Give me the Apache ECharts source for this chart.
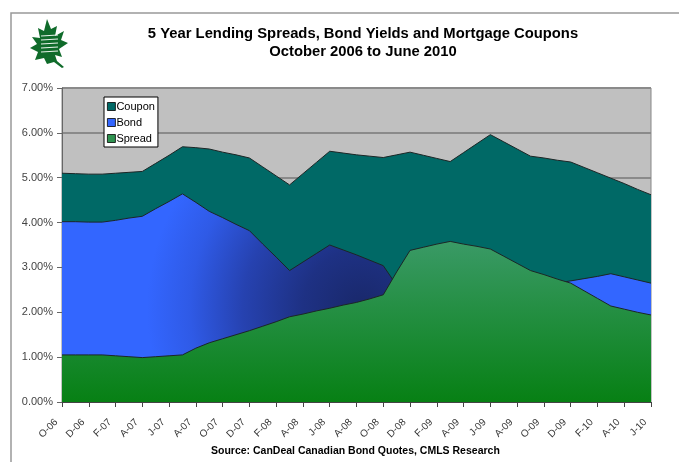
<!DOCTYPE html>
<html>
<head>
<meta charset="utf-8">
<script src="https://cdn.jsdelivr.net/npm/echarts@6/dist/echarts.min.js"></script>
<style>
  html, body { margin: 0; padding: 0; background: #fff; }
  #chart { width: 679px; height: 462px; }
</style>
</head>
<body>
<div id="chart"></div>
<script>
/* ---------------------------------- Data ---------------------------------- */
// monthly, October 2006 to June 2010 (every other month labelled)
const months = [
  'O-06', 'N-06', 'D-06',
  'J-07', 'F-07', 'M-07', 'A-07', 'M-07', 'J-07', 'J-07', 'A-07', 'S-07', 'O-07', 'N-07', 'D-07',
  'J-08', 'F-08', 'M-08', 'A-08', 'M-08', 'J-08', 'J-08', 'A-08', 'S-08', 'O-08', 'N-08', 'D-08',
  'J-09', 'F-09', 'M-09', 'A-09', 'M-09', 'J-09', 'J-09', 'A-09', 'S-09', 'O-09', 'N-09', 'D-09',
  'J-10', 'F-10', 'M-10', 'A-10', 'M-10', 'J-10'
];

const coupon = [
  5.10, 5.09, 5.08, 5.08, 5.10, 5.12, 5.14, 5.32, 5.50, 5.69,
  5.67, 5.64, 5.57, 5.51, 5.44, 5.24, 5.04, 4.84, 5.09, 5.34,
  5.59, 5.55, 5.51, 5.48, 5.45, 5.51, 5.57, 5.50, 5.43, 5.36,
  5.56, 5.76, 5.96, 5.80, 5.64, 5.48, 5.44, 5.39, 5.35, 5.23,
  5.11, 4.99, 4.87, 4.74, 4.62
];

const bond = [
  4.02, 4.02, 4.01, 4.01, 4.05, 4.10, 4.14, 4.31, 4.47, 4.64,
  4.45, 4.25, 4.11, 3.96, 3.82, 3.52, 3.23, 2.93, 3.12, 3.31,
  3.50, 3.39, 3.28, 3.16, 3.04, 2.60, 2.19, 2.05, 1.92, 1.78,
  2.03, 2.29, 2.54, 2.55, 2.55, 2.55, 2.60, 2.65, 2.70, 2.75,
  2.80, 2.86, 2.79, 2.72, 2.65
];

const spread = [
  1.05, 1.05, 1.05, 1.05, 1.03, 1.01, 0.99, 1.01, 1.03, 1.05,
  1.20, 1.32, 1.41, 1.50, 1.59, 1.69, 1.79, 1.90, 1.96, 2.03,
  2.09, 2.16, 2.22, 2.30, 2.39, 2.90, 3.38, 3.45, 3.52, 3.58,
  3.52, 3.47, 3.41, 3.25, 3.09, 2.93, 2.84, 2.74, 2.65, 2.48,
  2.31, 2.14, 2.07, 2.00, 1.94
];

const yTicks = [0, 1, 2, 3, 4, 5, 6, 7];

/* --------------------------------- Styles --------------------------------- */
const FONT = '"Liberation Sans", Arial, sans-serif';
const edge = { color: '#1c2626', width: 1 };

const bondFill = {
  type: 'radial', x: 0.51, y: 0.55, r: 1.15,
  colorStops: [
    { offset: 0, color: '#19286a' },
    { offset: 0.25, color: '#1e3184' },
    { offset: 0.5, color: '#2642b0' },
    { offset: 0.72, color: '#2f5ae6' },
    { offset: 0.9, color: '#3366ff' },
    { offset: 1, color: '#3366ff' }
  ]
};

const spreadFill = {
  type: 'linear', x: 0, y: 0, x2: 0, y2: 1,
  colorStops: [
    { offset: 0, color: '#3a9a66' },
    { offset: 1, color: '#078014' }
  ]
};

// rough maple leaf logo
const leaf = [
  [47, 19], [51, 29], [57, 26], [55, 36], [64, 31], [61, 40], [68, 43],
  [59, 49], [62, 57], [55, 55], [57, 61], [64, 67], [62, 68], [54, 62],
  [47, 64], [44, 58], [35, 60], [38, 52], [30, 48], [37, 44], [32, 37],
  [40, 38], [38, 28], [44, 31]
];

/* ---------------------------------- Chart --------------------------------- */
const chart = echarts.init(document.getElementById('chart'));

chart.setOption({
  animation: false,
  backgroundColor: '#fff',
  textStyle: { fontFamily: FONT },
  title: {
    text: '5 Year Lending Spreads, Bond Yields and Mortgage Coupons\nOctober 2006 to June 2010',
    left: 358,
    top: 20,
    textAlign: 'center',
    textStyle: { fontSize: 14.8, fontWeight: 'bold', color: '#000', lineHeight: 18, fontFamily: FONT }
  },
  graphic: [
    {
      type: 'rect',
      shape: { x: 11, y: 13, width: 700, height: 480 },
      style: { fill: 'none', stroke: '#999', lineWidth: 1.5 },
      silent: true
    },
    {
      type: 'polygon',
      shape: { points: leaf },
      style: { fill: '#0f6b2a' },
      silent: true
    },
    {
      type: 'group',
      silent: true,
      children: [36, 40, 44, 48, 52].map(y => ({
        type: 'line',
        shape: { x1: 41, y1: y, x2: 58, y2: y - 1 },
        style: { stroke: '#e8f2ea', lineWidth: 1.2 }
      }))
    },
    {
      type: 'text',
      left: 211,
      top: 446,
      silent: true,
      style: {
        text: 'Source: CanDeal Canadian Bond Quotes, CMLS Research',
        font: 'bold 10.5px ' + FONT, fill: '#000'
      }
    }
  ],
  legend: {
    orient: 'vertical',
    left: 104,
    top: 97,
    icon: 'rect',
    itemWidth: 8,
    itemHeight: 8,
    itemGap: 5,
    padding: [4, 3, 3, 3],
    backgroundColor: '#fff',
    borderColor: '#000',
    borderWidth: 1,
    itemStyle: { borderColor: '#000', borderWidth: 0.8 },
    textStyle: { fontSize: 11, color: '#000', padding: [0, 0, 0, -4] },
    data: ['Coupon', 'Bond', 'Spread']
  },
  grid: {
    left: 62,
    right: 28,
    top: 88,
    bottom: 60,
    show: true,
    backgroundColor: '#c0c0c0',
    borderColor: '#888',
    borderWidth: 1
  },
  xAxis: {
    type: 'category',
    data: months,
    boundaryGap: false,
    axisLine: { lineStyle: { color: '#444', width: 1 } },
    axisTick: { interval: 1, length: 5, lineStyle: { color: '#444' } },
    axisLabel: {
      interval: 1, rotate: 45, fontSize: 10, color: '#333',
      margin: 13, padding: [0, 8, 0, 0]
    },
    splitLine: { show: false }
  },
  yAxis: {
    type: 'value',
    min: yTicks[0],
    max: yTicks[yTicks.length - 1],
    interval: 1,
    axisLine: { show: true, lineStyle: { color: '#666' } },
    axisTick: { show: true, length: 5, lineStyle: { color: '#666' } },
    axisLabel: { fontSize: 11, color: '#444', margin: 9, formatter: v => v.toFixed(2) + '%' },
    splitLine: { lineStyle: { color: '#8a8a8a', width: 2 } }
  },
  series: [
    {
      name: 'Coupon',
      type: 'line',
      z: 2,
      data: coupon,
      showSymbol: false,
      itemStyle: { color: '#006966' },
      lineStyle: edge,
      areaStyle: { color: '#006966', opacity: 1 }
    },
    {
      name: 'Bond',
      type: 'line',
      z: 3,
      data: bond,
      showSymbol: false,
      itemStyle: { color: '#3366ff' },
      lineStyle: edge,
      areaStyle: { color: bondFill, opacity: 1 }
    },
    {
      name: 'Spread',
      type: 'line',
      z: 4,
      data: spread,
      showSymbol: false,
      itemStyle: { color: '#2f9350' },
      lineStyle: edge,
      areaStyle: { color: spreadFill, opacity: 1 }
    }
  ]
});
</script>
</body>
</html>
